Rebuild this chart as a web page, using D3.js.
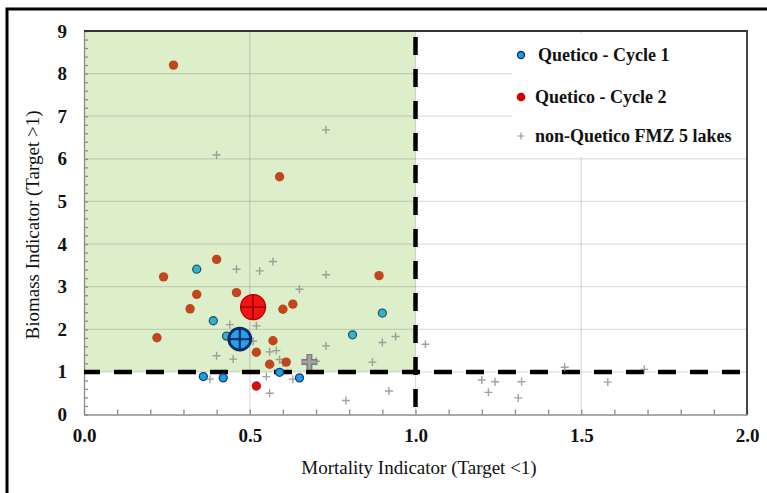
<!DOCTYPE html>
<html>
<head>
  <meta charset="utf-8">
  <title>Mortality vs Biomass indicator</title>
  <style>
    body { margin: 0; padding: 0; background: white; }
    svg text { font-family: "Liberation Serif", serif; fill: #111; }
    .tick-label { font-size: 19px; font-weight: bold; }
    .axis-title { font-size: 19px; }
    .legend text { font-size: 18px; font-weight: bold; }
  </style>
</head>
<body>
  <div id="chart"></div>

  <script src="https://d3js.org/d3.v7.min.js"></script>
  <script>

  // Quetico lakes, cycle 1 [mortality, biomass]
  var cycle1 = [
    [0.34, 3.41], [0.39, 2.20], [0.43, 1.84], [0.36, 0.89], [0.42, 0.86],
    [0.90, 2.38], [0.81, 1.87], [0.59, 0.99], [0.65, 0.86]
  ]
  var cycle1Mean = [0.47, 1.77]

  // Quetico lakes, cycle 2
  var cycle2 = [
    [0.27, 8.20], [0.59, 5.58], [0.24, 3.23], [0.40, 3.64], [0.34, 2.82],
    [0.32, 2.48], [0.22, 1.80], [0.46, 2.86], [0.89, 3.26], [0.60, 2.47],
    [0.63, 2.59], [0.57, 1.73], [0.52, 1.46], [0.56, 1.18], [0.61, 1.23],
    [0.52, 0.67]
  ]
  var cycle2Mean = [0.51, 2.52]

  // other FMZ 5 lakes
  var otherLakes = [
    [0.40, 6.09], [0.73, 6.68], [0.46, 3.41], [0.53, 3.37], [0.57, 3.59],
    [0.73, 3.28], [0.65, 2.94], [0.44, 2.11], [0.52, 2.08], [0.51, 1.72],
    [0.40, 1.38], [0.45, 1.30], [0.56, 1.47], [0.58, 1.50], [0.59, 1.29],
    [0.60, 1.22], [0.73, 1.61], [0.70, 1.25], [0.87, 1.23], [0.90, 1.69],
    [0.94, 1.83], [1.03, 1.65], [0.38, 0.83], [0.55, 0.89], [0.63, 0.83],
    [0.56, 0.50], [0.79, 0.33], [0.92, 0.55], [1.20, 0.81], [1.24, 0.77],
    [1.32, 0.77], [1.22, 0.52], [1.31, 0.39], [1.45, 1.11], [1.58, 0.76],
    [1.69, 1.06]
  ]
  var otherMean = [0.68, 1.23]

  var xTicks = [0, 0.5, 1, 1.5, 2]
  var yTicks = [0, 1, 2, 3, 4, 5, 6, 7, 8, 9]
  var legendLabels = ["Quetico - Cycle 1", "Quetico - Cycle 2", "non-Quetico FMZ 5 lakes"]
  var mortalityTarget = 1,
      biomassTarget = 1

  var width = 767,
      height = 493
  var margin = {top: 31, right: 20, bottom: 78, left: 84}
  var plotW = 747 - margin.left,
      plotH = 414.5 - margin.top

  var svg = d3.select("#chart").append("svg")
      .attr("width", width)
      .attr("height", height)

  // outer frame, runs off the right and bottom edges
  svg.append("rect")
      .attr("x", 7).attr("y", 9)
      .attr("width", 800).attr("height", 520)
      .attr("fill", "none")
      .attr("stroke", "#000")
      .attr("stroke-width", 3)

  var g = svg.append("g")
      .attr("transform", "translate(" + margin.left + "," + margin.top + ")")

  var x = d3.scaleLinear().domain([0, 2]).range([0, plotW])
  var y = d3.scaleLinear().domain([0, 9]).range([plotH, 0])

  // green "target met" zone
  g.append("rect")
      .attr("x", x(0))
      .attr("y", y(9))
      .attr("width", x(mortalityTarget) - x(0))
      .attr("height", y(biomassTarget) - y(9))
      .attr("fill", "#ddeeca")

  // gridlines
  g.append("g")
    .selectAll("line.h")
    .data(yTicks.filter(function (d) { return d > 0 && d < 9 }))
    .enter().append("line")
      .attr("x1", 0).attr("x2", plotW)
      .attr("y1", function (d) { return y(d) })
      .attr("y2", function (d) { return y(d) })
      .attr("stroke", "#000").attr("stroke-opacity", 0.13).attr("stroke-width", 1.3)

  g.append("g")
    .selectAll("line.v")
    .data(xTicks.filter(function (d) { return d > 0 && d < 2 }))
    .enter().append("line")
      .attr("y1", 0).attr("y2", plotH)
      .attr("x1", function (d) { return x(d) })
      .attr("x2", function (d) { return x(d) })
      .attr("stroke", "#000").attr("stroke-opacity", 0.13).attr("stroke-width", 1.3)

  // minor ticks, pointing inward
  var xMinor = g.append("g")
      .attr("transform", "translate(0," + plotH + ")")
      .call(d3.axisBottom(x).tickValues(d3.range(0, 21).map(function (i) { return i / 10 }))
        .tickSizeInner(-5).tickSizeOuter(0).tickFormat(""))
  var yMinor = g.append("g")
      .call(d3.axisLeft(y).tickValues(d3.range(0, 46).map(function (i) { return i / 5 }))
        .tickSizeInner(-4).tickSizeOuter(0).tickFormat(""))
  xMinor.selectAll("line, path").attr("stroke", "#8c8c8c").attr("stroke-width", 1.3)
  yMinor.selectAll("line, path").attr("stroke", "#8c8c8c").attr("stroke-width", 1.3)

  // top and right border
  g.append("path")
      .attr("d", "M0,0H" + plotW + "V" + plotH)
      .attr("fill", "none")
      .attr("stroke", "#333")
      .attr("stroke-width", 1.8)

  // tick labels
  var xAxis = g.append("g")
      .attr("transform", "translate(0," + plotH + ")")
      .call(d3.axisBottom(x).tickValues(xTicks).tickSize(0).tickPadding(14).tickFormat(d3.format(".1f")))
  var yAxis = g.append("g")
      .call(d3.axisLeft(y).tickValues(yTicks).tickSize(0).tickPadding(17).tickFormat(d3.format("d")))
  xAxis.select(".domain").remove()
  yAxis.select(".domain").remove()
  xAxis.selectAll("text").attr("class", "tick-label").attr("font-family", null).attr("font-size", null).attr("fill", null)
  yAxis.selectAll("text").attr("class", "tick-label").attr("font-family", null).attr("font-size", null).attr("fill", null)

  // legend box hides the gridlines behind it
  var legend = g.append("g").attr("class", "legend")
  legend.append("rect")
      .attr("x", 428).attr("y", 3)
      .attr("width", plotW - 429).attr("height", 123)
      .attr("fill", "white")

  // target lines
  g.append("line")
      .attr("x1", x(0)).attr("x2", x(2))
      .attr("y1", y(biomassTarget)).attr("y2", y(biomassTarget))
      .attr("stroke", "#000").attr("stroke-width", 4.5)
      .attr("stroke-dasharray", "18,14").attr("stroke-dashoffset", 2)
  g.append("line")
      .attr("x1", x(mortalityTarget)).attr("x2", x(mortalityTarget))
      .attr("y1", y(9)).attr("y2", y(0))
      .attr("stroke", "#000").attr("stroke-width", 4.5)
      .attr("stroke-dasharray", "18,14").attr("stroke-dashoffset", 26)

  // other lakes as small crosses
  var cross = function (s) { return "M" + (-s) + ",0H" + s + "M0," + (-s) + "V" + s }
  g.append("g")
    .selectAll("path")
    .data(otherLakes)
    .enter().append("path")
      .attr("transform", function (d) { return "translate(" + x(d[0]) + "," + y(d[1]) + ")" })
      .attr("d", cross(4))
      .attr("stroke", "#8a8a8a").attr("stroke-opacity", 0.8).attr("stroke-width", 1.4)

  // cycle 1 lakes: teal, bright blue where biomass is below target
  g.append("g")
    .selectAll("circle")
    .data(cycle1)
    .enter().append("circle")
      .attr("cx", function (d) { return x(d[0]) })
      .attr("cy", function (d) { return y(d[1]) })
      .attr("r", 4)
      .attr("fill", function (d) { return d[1] < biomassTarget ? "#1c9fe6" : "#33b4c6" })
      .attr("stroke", function (d) { return d[1] < biomassTarget ? "#153a78" : "#1f5a66" })
      .attr("stroke-width", 1.3)

  // cycle 2 lakes
  g.append("g")
    .selectAll("circle")
    .data(cycle2)
    .enter().append("circle")
      .attr("cx", function (d) { return x(d[0]) })
      .attr("cy", function (d) { return y(d[1]) })
      .attr("r", 4.7)
      .attr("fill", function (d) { return d[1] < biomassTarget ? "#d40f0f" : "#c0461b" })

  // means
  var other = g.append("g")
      .attr("transform", "translate(" + x(otherMean[0]) + "," + y(otherMean[1]) + ")")
  other.append("path").attr("d", cross(8)).attr("stroke", "#7a7a7a").attr("stroke-width", 6)
  other.append("path").attr("d", cross(7)).attr("stroke", "#a3a3a3").attr("stroke-width", 3)

  var m1 = g.append("g")
      .attr("transform", "translate(" + x(cycle1Mean[0]) + "," + y(cycle1Mean[1]) + ")")
  m1.append("circle").attr("r", 11).attr("fill", "#1ca4ec").attr("stroke", "#0c2a66").attr("stroke-width", 2.8)
  m1.append("path").attr("d", cross(11)).attr("stroke", "#0c2a66").attr("stroke-width", 2.2)

  var m2 = g.append("g")
      .attr("transform", "translate(" + x(cycle2Mean[0]) + "," + y(cycle2Mean[1]) + ")")
  m2.append("circle").attr("r", 12.5).attr("fill", "#f21414").attr("stroke", "#b30000").attr("stroke-width", 1.2)
  m2.append("path").attr("d", cross(12)).attr("stroke", "#a00000").attr("stroke-width", 1.8)

  // legend entries
  var items = legend.selectAll("g.item")
      .data(legendLabels)
      .enter().append("g")
      .attr("transform", function (d, i) { return "translate(437," + [24, 66, 105][i] + ")" })

  items.each(function (d, i) {
    var item = d3.select(this)
    if (i === 0) item.append("circle").attr("r", 3.5).attr("fill", "#1c9fe6").attr("stroke", "#0c2a66").attr("stroke-width", 1.3)
    if (i === 1) item.append("circle").attr("r", 4.3).attr("fill", "#d00000")
    if (i === 2) item.append("path").attr("d", cross(3.5)).attr("stroke", "#999").attr("stroke-width", 1.2)
    item.append("text")
      .attr("x", i === 0 ? 17 : 14)
      .attr("y", 6)
      .text(d)
  })

  // axis titles
  svg.append("text")
      .attr("class", "axis-title")
      .attr("x", 419).attr("y", 474)
      .attr("text-anchor", "middle")
      .text("Mortality Indicator (Target <1)")

  svg.append("text")
      .attr("class", "axis-title")
      .attr("transform", "translate(39,225) rotate(-90)")
      .attr("text-anchor", "middle")
      .text("Biomass Indicator (Target >1)")

  </script>
</body>
</html>
